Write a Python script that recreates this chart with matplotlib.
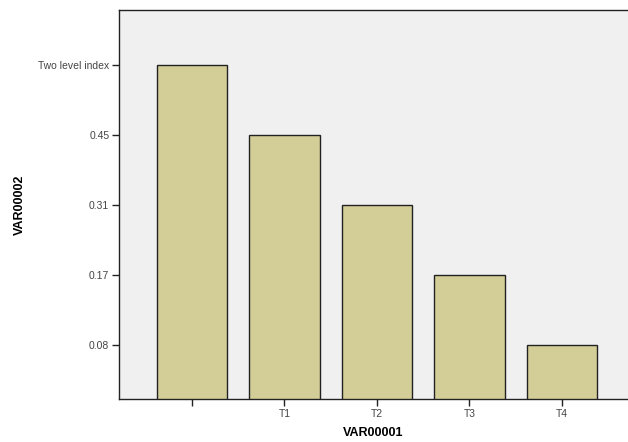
import matplotlib
matplotlib.use("Agg")
from matplotlib import pyplot as plt

# categories on x, and the (categorical) values on y, as shown in the chart
categories = ["", "T1", "T2", "T3", "T4"]
values = ["Two level index", "0.45", "0.31", "0.17", "0.08"]
y_levels = ["0.08", "0.17", "0.31", "0.45", "Two level index"]

plt.rcParams["font.family"] = ["Liberation Sans", "DejaVu Sans"]

fig = plt.figure(figsize=(6.28, 4.42), dpi=100)
ax = fig.add_axes([0.1895, 0.0973, 0.815, 0.8800])
ax.set_facecolor("#f0f0f0")

xs = list(range(len(categories)))
heights = [y_levels.index(v) + 1 for v in values]
ax.bar(xs, heights, width=0.76, bottom=0, color="#d3ce98",
       edgecolor="#222222", linewidth=1.0, zorder=2)

ax.set_xlim(-0.789, 4.746)
ax.set_ylim(0.229, 5.786)
ax.set_xticks(xs)
ax.set_xticklabels(categories)
ax.set_yticks(range(1, len(y_levels) + 1))
ax.set_yticklabels(y_levels)

ax.tick_params(axis="both", labelsize=7.5, labelcolor="#444444",
               length=5, width=1, color="#222222", pad=2)
ax.spines["right"].set_visible(False)
for s in ["left", "top", "bottom"]:
    ax.spines[s].set_color("#222222")
    ax.spines[s].set_linewidth(1.0)

ax.set_xlabel("VAR00001", fontsize=9, fontweight="bold")
ax.set_ylabel("VAR00002", fontsize=9, fontweight="bold")
ax.xaxis.set_label_coords(0.497, -0.071)
ax.yaxis.set_label_coords(-0.181, 0.50)

fig.savefig("out.png", dpi=100)
